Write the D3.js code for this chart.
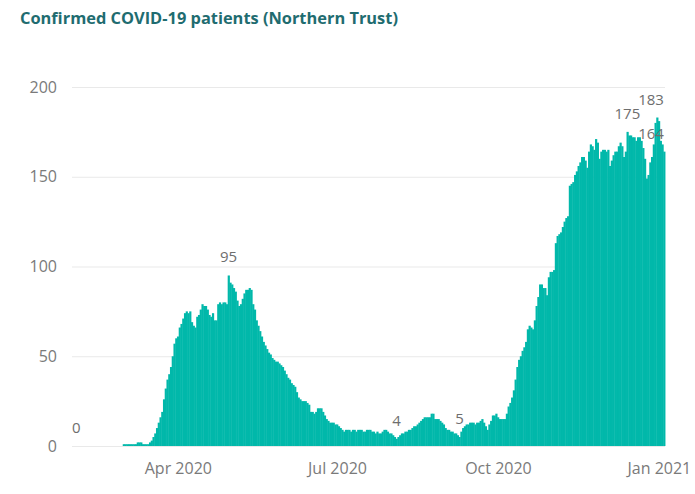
<!DOCTYPE html>
<html>
<head>
<meta charset="utf-8">
<script src="https://cdn.jsdelivr.net/npm/d3@7"></script>
<style>
  html, body { margin: 0; padding: 0; background: #fff; }
  svg { display: block; }
</style>
</head>
<body>
<svg id="chart" width="695" height="494"></svg>
<script>
// ---- Data (daily confirmed COVID-19 patients, Northern Trust) ----
const title = "Confirmed COVID-19 patients (Northern Trust)";
const firstDate = "2020-02-03";
const patients = [
  // Feb 3 - Feb 29
  0,0,0,0,0,0,0,0,0,0,0,0,0,0,0,0,0,0,0,0,0,0,0,0,0,0,0,
  // Mar
  1,1,1,1,1,1,1,1,2,2,2,1,1,1,1,2,3,5,7,10,13,16,19,26,32,37,40,44,50,57,60,
  // Apr
  61,66,68,71,74,75,74,75,69,67,66,72,73,76,79,78,78,76,73,72,74,70,70,79,80,79,80,80,79,95,
  // May
  91,90,88,86,81,78,79,82,85,87,87,88,87,79,76,70,67,64,61,58,56,54,52,51,49,48,47,47,46,45,44,
  // Jun
  42,40,38,37,35,34,33,30,27,26,25,25,25,24,23,19,19,18,19,21,21,21,19,17,15,14,13,13,13,12,
  // Jul
  12,11,10,9,8,9,9,9,8,9,9,8,9,9,9,8,8,9,9,9,8,8,7,8,7,7,8,9,9,8,7,
  // Aug
  7,6,5,4,5,6,7,7,8,8,9,9,10,11,11,12,13,14,15,16,16,16,16,18,18,15,15,15,14,13,12,
  // Sep
  10,9,9,8,8,7,7,6,5,8,10,11,12,12,13,13,13,12,13,13,14,15,13,11,9,12,14,17,17,18,
  // Oct
  16,15,15,15,15,18,22,24,27,31,37,44,48,50,53,55,58,65,67,66,65,70,78,83,90,90,88,88,84,94,97,
  // Nov
  97,98,113,117,118,119,122,125,127,128,145,146,147,151,153,156,158,161,161,159,155,164,168,167,165,171,169,160,164,165,
  // Dec
  165,164,165,156,159,162,164,164,167,169,167,161,164,175,173,173,172,172,170,172,172,170,166,160,149,151,158,161,168,180,183,
  // Jan 1 - Jan 4
  181,170,168,164
];
// dates whose values carry a data label in the picture
const labelledDates = ["2020-02-03", "2020-04-30", "2020-08-04", "2020-09-09", "2020-12-14", "2020-12-31", "2021-01-04"];
const yTicks = [0, 50, 100, 150, 200];
const xTicks = ["2020-04-01", "2020-07-01", "2020-10-01", "2021-01-01"];
const xTickFormat = d3.utcFormat("%b %Y");

// ---- Build rows ----
const parse = d3.utcParse("%Y-%m-%d");
const start = parse(firstDate);
const rows = patients.map((v, i) => ({ date: d3.utcDay.offset(start, i), value: v }));
const lastDate = rows[rows.length - 1].date;

// ---- Layout ----
const svg = d3.select("#chart");
const pLeft = 72, pRight = 665, pTop = 87, pBottom = 446;

const x = d3.scaleUtc()
  .domain([d3.utcHour.offset(d3.utcDay.offset(start, -2), -12), d3.utcHour.offset(lastDate, 12)])
  .range([pLeft, pRight]);
const y = d3.scaleLinear().domain([0, 200]).range([pBottom, pTop]);
const step = x(d3.utcDay.offset(start, 1)) - x(start);

// title
svg.append("text")
  .attr("x", 20).attr("y", 24)
  .attr("font-family", "'Open Sans', sans-serif")
  .attr("font-weight", 700)
  .attr("font-size", 16.4)
  .attr("fill", "#1f6c70")
  .text(title);

// grid lines + y labels
const yAxis = d3.axisLeft(y).tickValues(yTicks).tickSize(-(pRight - pLeft)).tickPadding(15);
const gy = svg.append("g").attr("transform", `translate(${pLeft},0)`).call(yAxis);
gy.select(".domain").remove();
gy.selectAll(".tick line").attr("stroke", "#e9e9e9").attr("stroke-width", 1.2);
gy.selectAll(".tick text")
  .attr("font-family", "'Open Sans', sans-serif")
  .attr("font-size", 16)
  .attr("fill", "#7a7a7a");

// bars (slight overlap so neighbouring days read as one filled area)
svg.append("g").selectAll("rect").data(rows).join("rect")
  .attr("x", d => x(d.date) - step / 2)
  .attr("width", step + 0.45)
  .attr("y", d => y(d.value))
  .attr("height", d => y(0) - y(d.value))
  .attr("fill", "#01B8AA");

// x axis
const xAxis = d3.axisBottom(x).tickValues(xTicks.map(parse)).tickFormat(xTickFormat).tickSize(0).tickPadding(17);
const gx = svg.append("g").attr("transform", `translate(0,${pBottom})`).call(xAxis);
gx.select(".domain").remove();
gx.selectAll(".tick text")
  .attr("font-family", "'Open Sans', sans-serif")
  .attr("font-size", 16)
  .attr("fill", "#7a7a7a");

// data labels
const lab = new Set(labelledDates);
const fmt = d3.utcFormat("%Y-%m-%d");
svg.append("g").selectAll("text").data(rows.filter(r => lab.has(fmt(r.date)))).join("text")
  .attr("x", d => Math.min(x(d.date), pRight - 14))
  .attr("y", d => y(d.value) - 13)
  .attr("text-anchor", "middle")
  .attr("font-family", "'Open Sans', sans-serif")
  .attr("font-size", 15)
  .attr("fill", "#6e6e6e")
  .text(d => d.value);
</script>
</body>
</html>
